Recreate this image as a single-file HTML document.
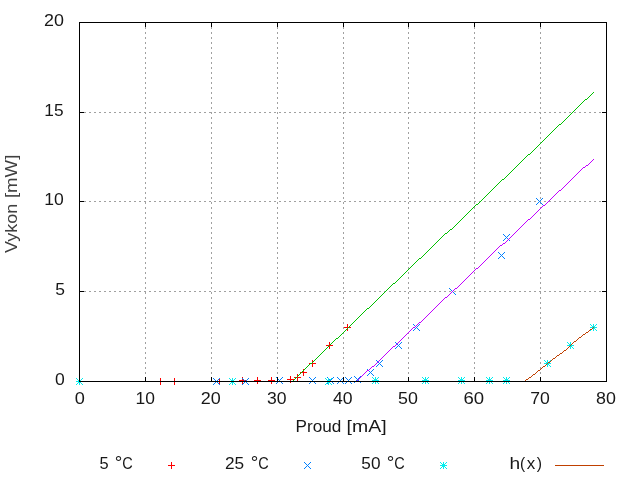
<!DOCTYPE html><html><head><meta charset="utf-8"><style>html,body{margin:0;padding:0;background:#fff;overflow:hidden}svg{display:block}text{font-family:"Liberation Sans",sans-serif}g.t{fill:#181818}</style></head><body>
<svg width="640" height="480" viewBox="0 0 640 480">
<rect width="640" height="480" fill="#fff"/>
<g stroke="#a0a0a0" stroke-width="1" stroke-dasharray="2 3" shape-rendering="crispEdges"><line x1="79" y1="291.5" x2="606" y2="291.5"/><line x1="79" y1="201.5" x2="606" y2="201.5"/><line x1="79" y1="112.5" x2="606" y2="112.5"/><line x1="145.5" y1="22" x2="145.5" y2="381"/><line x1="211.5" y1="22" x2="211.5" y2="381"/><line x1="277.5" y1="22" x2="277.5" y2="381"/><line x1="343.5" y1="22" x2="343.5" y2="381"/><line x1="408.5" y1="22" x2="408.5" y2="381"/><line x1="474.5" y1="22" x2="474.5" y2="381"/><line x1="540.5" y1="22" x2="540.5" y2="381"/></g>
<path fill="#ff0000" shape-rendering="crispEdges" d="M157 381h7v1h-7zM160 378h1v7h-1zM171 381h7v1h-7zM174 378h1v7h-1zM216 381h7v1h-7zM219 378h1v7h-1zM239 380h7v1h-7zM242 377h1v7h-1zM254 380h7v1h-7zM257 377h1v7h-1zM268 380h7v1h-7zM271 377h1v7h-1zM287 379h7v1h-7zM290 376h1v7h-1zM294 377h7v1h-7zM297 374h1v7h-1zM300 372h7v1h-7zM303 369h1v7h-1zM309 363h7v1h-7zM312 360h1v7h-1zM326 345h7v1h-7zM329 342h1v7h-1zM344 327h7v1h-7zM347 324h1v7h-1z"/>
<path fill="#00c000" shape-rendering="crispEdges" d="M593 92h1v1h-1zM592 93h1v1h-1zM591 94h1v1h-1zM590 95h1v1h-1zM589 96h1v1h-1zM588 97h1v1h-1zM587 98h1v1h-1zM585 99h2v1h-2zM584 100h1v1h-1zM583 101h1v1h-1zM582 102h1v1h-1zM581 103h1v1h-1zM580 104h1v1h-1zM579 105h1v1h-1zM578 106h1v1h-1zM577 107h1v1h-1zM576 108h1v1h-1zM575 109h1v1h-1zM574 110h1v1h-1zM573 111h1v1h-1zM572 112h1v1h-1zM571 113h1v1h-1zM570 114h1v1h-1zM569 115h1v1h-1zM568 116h1v1h-1zM567 117h1v1h-1zM566 118h1v1h-1zM565 119h1v1h-1zM564 120h1v1h-1zM563 121h1v1h-1zM562 122h1v1h-1zM561 123h1v1h-1zM559 124h2v1h-2zM558 125h1v1h-1zM557 126h1v1h-1zM556 127h1v1h-1zM555 128h1v1h-1zM554 129h1v1h-1zM553 130h1v1h-1zM552 131h1v1h-1zM551 132h1v1h-1zM550 133h1v1h-1zM549 134h1v1h-1zM548 135h1v1h-1zM547 136h1v1h-1zM546 137h1v1h-1zM545 138h1v1h-1zM544 139h1v1h-1zM543 140h1v1h-1zM542 141h1v1h-1zM541 142h1v1h-1zM540 143h1v1h-1zM539 144h1v1h-1zM538 145h1v1h-1zM537 146h1v1h-1zM536 147h1v1h-1zM535 148h1v1h-1zM534 149h1v1h-1zM533 150h1v1h-1zM532 151h1v1h-1zM531 152h1v1h-1zM530 153h1v1h-1zM528 154h2v1h-2zM527 155h1v1h-1zM526 156h1v1h-1zM525 157h1v1h-1zM524 158h1v1h-1zM523 159h1v1h-1zM522 160h1v1h-1zM521 161h1v1h-1zM520 162h1v1h-1zM519 163h1v1h-1zM518 164h1v1h-1zM517 165h1v1h-1zM516 166h1v1h-1zM515 167h1v1h-1zM514 168h1v1h-1zM513 169h1v1h-1zM512 170h1v1h-1zM511 171h1v1h-1zM510 172h1v1h-1zM509 173h1v1h-1zM508 174h1v1h-1zM507 175h1v1h-1zM506 176h1v1h-1zM505 177h1v1h-1zM504 178h1v1h-1zM502 179h2v1h-2zM501 180h1v1h-1zM500 181h1v1h-1zM499 182h1v1h-1zM498 183h1v1h-1zM497 184h1v1h-1zM496 185h1v1h-1zM495 186h1v1h-1zM494 187h1v1h-1zM493 188h1v1h-1zM492 189h1v1h-1zM491 190h1v1h-1zM490 191h1v1h-1zM489 192h1v1h-1zM488 193h1v1h-1zM487 194h1v1h-1zM486 195h1v1h-1zM485 196h1v1h-1zM484 197h1v1h-1zM483 198h1v1h-1zM482 199h1v1h-1zM481 200h1v1h-1zM480 201h1v1h-1zM479 202h1v1h-1zM478 203h1v1h-1zM476 204h2v1h-2zM475 205h1v1h-1zM474 206h1v1h-1zM473 207h1v1h-1zM472 208h1v1h-1zM471 209h1v1h-1zM470 210h1v1h-1zM469 211h1v1h-1zM468 212h1v1h-1zM467 213h1v1h-1zM466 214h1v1h-1zM465 215h1v1h-1zM464 216h1v1h-1zM463 217h1v1h-1zM462 218h1v1h-1zM461 219h1v1h-1zM460 220h1v1h-1zM459 221h1v1h-1zM458 222h1v1h-1zM457 223h1v1h-1zM456 224h1v1h-1zM455 225h1v1h-1zM454 226h1v1h-1zM453 227h1v1h-1zM452 228h1v1h-1zM450 229h2v1h-2zM449 230h1v1h-1zM448 231h1v1h-1zM447 232h1v1h-1zM445 233h2v1h-2zM444 234h1v1h-1zM443 235h1v1h-1zM442 236h1v1h-1zM441 237h1v1h-1zM440 238h1v1h-1zM439 239h1v1h-1zM438 240h1v1h-1zM437 241h1v1h-1zM436 242h1v1h-1zM435 243h1v1h-1zM434 244h1v1h-1zM433 245h1v1h-1zM432 246h1v1h-1zM431 247h1v1h-1zM430 248h1v1h-1zM429 249h1v1h-1zM428 250h1v1h-1zM427 251h1v1h-1zM426 252h1v1h-1zM425 253h1v1h-1zM424 254h1v1h-1zM423 255h1v1h-1zM422 256h1v1h-1zM421 257h1v1h-1zM419 258h2v1h-2zM418 259h1v1h-1zM417 260h1v1h-1zM416 261h1v1h-1zM415 262h1v1h-1zM414 263h1v1h-1zM413 264h1v1h-1zM412 265h1v1h-1zM411 266h1v1h-1zM410 267h1v1h-1zM409 268h1v1h-1zM408 269h1v1h-1zM407 270h1v1h-1zM406 271h1v1h-1zM405 272h1v1h-1zM404 273h1v1h-1zM403 274h1v1h-1zM402 275h1v1h-1zM401 276h1v1h-1zM400 277h1v1h-1zM399 278h1v1h-1zM398 279h1v1h-1zM397 280h1v1h-1zM396 281h1v1h-1zM395 282h1v1h-1zM393 283h2v1h-2zM392 284h1v1h-1zM391 285h1v1h-1zM390 286h1v1h-1zM389 287h1v1h-1zM388 288h1v1h-1zM387 289h1v1h-1zM386 290h1v1h-1zM385 291h1v1h-1zM384 292h1v1h-1zM383 293h1v1h-1zM382 294h1v1h-1zM381 295h1v1h-1zM380 296h1v1h-1zM379 297h1v1h-1zM378 298h1v1h-1zM377 299h1v1h-1zM376 300h1v1h-1zM375 301h1v1h-1zM374 302h1v1h-1zM373 303h1v1h-1zM372 304h1v1h-1zM371 305h1v1h-1zM370 306h1v1h-1zM369 307h1v1h-1zM367 308h2v1h-2zM366 309h1v1h-1zM365 310h1v1h-1zM364 311h1v1h-1zM363 312h1v1h-1zM362 313h1v1h-1zM361 314h1v1h-1zM360 315h1v1h-1zM359 316h1v1h-1zM358 317h1v1h-1zM357 318h1v1h-1zM356 319h1v1h-1zM355 320h1v1h-1zM354 321h1v1h-1zM353 322h1v1h-1zM352 323h1v1h-1zM351 324h1v1h-1zM350 325h1v1h-1zM349 326h1v1h-1zM348 327h1v1h-1zM347 328h1v1h-1zM346 329h1v1h-1zM345 330h1v1h-1zM344 331h1v1h-1zM343 332h1v1h-1zM342 333h1v1h-1zM341 334h1v1h-1zM340 335h1v1h-1zM339 336h1v1h-1zM338 337h1v1h-1zM336 338h2v1h-2zM335 339h1v1h-1zM334 340h1v1h-1zM333 341h1v1h-1zM332 342h1v1h-1zM331 343h1v1h-1zM330 344h1v1h-1zM329 345h1v1h-1zM328 346h1v1h-1zM327 347h1v1h-1zM326 348h1v1h-1zM325 349h1v1h-1zM324 350h1v1h-1zM323 351h1v1h-1zM322 352h1v1h-1zM321 353h1v1h-1zM320 354h1v1h-1zM319 355h1v1h-1zM318 356h1v1h-1zM317 357h1v1h-1zM316 358h1v1h-1zM315 359h1v1h-1zM314 360h1v1h-1zM313 361h1v1h-1zM312 362h1v1h-1zM310 363h2v1h-2zM309 364h1v1h-1zM308 365h1v1h-1zM307 366h1v1h-1zM306 367h1v1h-1zM305 368h1v1h-1zM304 369h1v1h-1zM303 370h1v1h-1zM302 371h1v1h-1zM301 372h1v1h-1zM300 373h1v1h-1zM299 374h1v1h-1zM298 375h1v1h-1zM297 376h1v1h-1zM296 377h1v1h-1zM295 378h1v1h-1zM294 379h1v1h-1zM293 380h1v1h-1zM291 381h2v1h-2z"/>
<path fill="#0080ff" shape-rendering="crispEdges" d="M213 378h1v1h-1zM213 384h1v1h-1zM214 379h1v1h-1zM214 383h1v1h-1zM215 380h1v1h-1zM215 382h1v1h-1zM216 381h1v1h-1zM217 382h1v1h-1zM217 380h1v1h-1zM218 383h1v1h-1zM218 379h1v1h-1zM219 384h1v1h-1zM219 378h1v1h-1zM242 378h1v1h-1zM242 384h1v1h-1zM243 379h1v1h-1zM243 383h1v1h-1zM244 380h1v1h-1zM244 382h1v1h-1zM245 381h1v1h-1zM246 382h1v1h-1zM246 380h1v1h-1zM247 383h1v1h-1zM247 379h1v1h-1zM248 384h1v1h-1zM248 378h1v1h-1zM276 377h1v1h-1zM276 383h1v1h-1zM277 378h1v1h-1zM277 382h1v1h-1zM278 379h1v1h-1zM278 381h1v1h-1zM279 380h1v1h-1zM280 381h1v1h-1zM280 379h1v1h-1zM281 382h1v1h-1zM281 378h1v1h-1zM282 383h1v1h-1zM282 377h1v1h-1zM309 377h1v1h-1zM309 383h1v1h-1zM310 378h1v1h-1zM310 382h1v1h-1zM311 379h1v1h-1zM311 381h1v1h-1zM312 380h1v1h-1zM313 381h1v1h-1zM313 379h1v1h-1zM314 382h1v1h-1zM314 378h1v1h-1zM315 383h1v1h-1zM315 377h1v1h-1zM327 377h1v1h-1zM327 383h1v1h-1zM328 378h1v1h-1zM328 382h1v1h-1zM329 379h1v1h-1zM329 381h1v1h-1zM330 380h1v1h-1zM331 381h1v1h-1zM331 379h1v1h-1zM332 382h1v1h-1zM332 378h1v1h-1zM333 383h1v1h-1zM333 377h1v1h-1zM337 377h1v1h-1zM337 383h1v1h-1zM338 378h1v1h-1zM338 382h1v1h-1zM339 379h1v1h-1zM339 381h1v1h-1zM340 380h1v1h-1zM341 381h1v1h-1zM341 379h1v1h-1zM342 382h1v1h-1zM342 378h1v1h-1zM343 383h1v1h-1zM343 377h1v1h-1zM345 377h1v1h-1zM345 383h1v1h-1zM346 378h1v1h-1zM346 382h1v1h-1zM347 379h1v1h-1zM347 381h1v1h-1zM348 380h1v1h-1zM349 381h1v1h-1zM349 379h1v1h-1zM350 382h1v1h-1zM350 378h1v1h-1zM351 383h1v1h-1zM351 377h1v1h-1zM354 376h1v1h-1zM354 382h1v1h-1zM355 377h1v1h-1zM355 381h1v1h-1zM356 378h1v1h-1zM356 380h1v1h-1zM357 379h1v1h-1zM358 380h1v1h-1zM358 378h1v1h-1zM359 381h1v1h-1zM359 377h1v1h-1zM360 382h1v1h-1zM360 376h1v1h-1zM367 369h1v1h-1zM367 375h1v1h-1zM368 370h1v1h-1zM368 374h1v1h-1zM369 371h1v1h-1zM369 373h1v1h-1zM370 372h1v1h-1zM371 373h1v1h-1zM371 371h1v1h-1zM372 374h1v1h-1zM372 370h1v1h-1zM373 375h1v1h-1zM373 369h1v1h-1zM376 360h1v1h-1zM376 366h1v1h-1zM377 361h1v1h-1zM377 365h1v1h-1zM378 362h1v1h-1zM378 364h1v1h-1zM379 363h1v1h-1zM380 364h1v1h-1zM380 362h1v1h-1zM381 365h1v1h-1zM381 361h1v1h-1zM382 366h1v1h-1zM382 360h1v1h-1zM395 342h1v1h-1zM395 348h1v1h-1zM396 343h1v1h-1zM396 347h1v1h-1zM397 344h1v1h-1zM397 346h1v1h-1zM398 345h1v1h-1zM399 346h1v1h-1zM399 344h1v1h-1zM400 347h1v1h-1zM400 343h1v1h-1zM401 348h1v1h-1zM401 342h1v1h-1zM413 324h1v1h-1zM413 330h1v1h-1zM414 325h1v1h-1zM414 329h1v1h-1zM415 326h1v1h-1zM415 328h1v1h-1zM416 327h1v1h-1zM417 328h1v1h-1zM417 326h1v1h-1zM418 329h1v1h-1zM418 325h1v1h-1zM419 330h1v1h-1zM419 324h1v1h-1zM449 288h1v1h-1zM449 294h1v1h-1zM450 289h1v1h-1zM450 293h1v1h-1zM451 290h1v1h-1zM451 292h1v1h-1zM452 291h1v1h-1zM453 292h1v1h-1zM453 290h1v1h-1zM454 293h1v1h-1zM454 289h1v1h-1zM455 294h1v1h-1zM455 288h1v1h-1zM498 252h1v1h-1zM498 258h1v1h-1zM499 253h1v1h-1zM499 257h1v1h-1zM500 254h1v1h-1zM500 256h1v1h-1zM501 255h1v1h-1zM502 256h1v1h-1zM502 254h1v1h-1zM503 257h1v1h-1zM503 253h1v1h-1zM504 258h1v1h-1zM504 252h1v1h-1zM503 234h1v1h-1zM503 240h1v1h-1zM504 235h1v1h-1zM504 239h1v1h-1zM505 236h1v1h-1zM505 238h1v1h-1zM506 237h1v1h-1zM507 238h1v1h-1zM507 236h1v1h-1zM508 239h1v1h-1zM508 235h1v1h-1zM509 240h1v1h-1zM509 234h1v1h-1zM536 198h1v1h-1zM536 204h1v1h-1zM537 199h1v1h-1zM537 203h1v1h-1zM538 200h1v1h-1zM538 202h1v1h-1zM539 201h1v1h-1zM540 202h1v1h-1zM540 200h1v1h-1zM541 203h1v1h-1zM541 199h1v1h-1zM542 204h1v1h-1zM542 198h1v1h-1z"/>
<path fill="#c000ff" shape-rendering="crispEdges" d="M593 159h1v1h-1zM592 160h1v1h-1zM591 161h1v1h-1zM590 162h1v1h-1zM589 163h1v1h-1zM588 164h1v1h-1zM586 165h2v1h-2zM585 166h1v1h-1zM583 167h2v1h-2zM582 168h1v1h-1zM581 169h1v1h-1zM580 170h1v1h-1zM579 171h1v1h-1zM578 172h1v1h-1zM577 173h1v1h-1zM576 174h1v1h-1zM575 175h1v1h-1zM574 176h1v1h-1zM573 177h1v1h-1zM572 178h1v1h-1zM571 179h1v1h-1zM570 180h1v1h-1zM569 181h1v1h-1zM568 182h1v1h-1zM567 183h1v1h-1zM566 184h1v1h-1zM565 185h1v1h-1zM564 186h1v1h-1zM563 187h1v1h-1zM562 188h1v1h-1zM561 189h1v1h-1zM559 190h2v1h-2zM558 191h1v1h-1zM557 192h1v1h-1zM556 193h1v1h-1zM555 194h1v1h-1zM554 195h1v1h-1zM553 196h1v1h-1zM552 197h1v1h-1zM551 198h1v1h-1zM550 199h1v1h-1zM549 200h1v1h-1zM548 201h1v1h-1zM547 202h1v1h-1zM546 203h1v1h-1zM545 204h1v1h-1zM543 205h2v1h-2zM542 206h1v1h-1zM541 207h1v1h-1zM540 208h1v1h-1zM539 209h1v1h-1zM538 210h1v1h-1zM537 211h1v1h-1zM536 212h1v1h-1zM535 213h1v1h-1zM534 214h1v1h-1zM533 215h1v1h-1zM532 216h1v1h-1zM531 217h1v1h-1zM530 218h1v1h-1zM528 219h2v1h-2zM527 220h1v1h-1zM526 221h1v1h-1zM525 222h1v1h-1zM524 223h1v1h-1zM523 224h1v1h-1zM522 225h1v1h-1zM521 226h1v1h-1zM520 227h1v1h-1zM519 228h1v1h-1zM518 229h1v1h-1zM517 230h1v1h-1zM516 231h1v1h-1zM515 232h1v1h-1zM514 233h1v1h-1zM513 234h1v1h-1zM512 235h1v1h-1zM511 236h1v1h-1zM510 237h1v1h-1zM509 238h1v1h-1zM508 239h1v1h-1zM507 240h1v1h-1zM506 241h1v1h-1zM505 242h1v1h-1zM503 243h2v1h-2zM502 244h1v1h-1zM500 245h2v1h-2zM499 246h1v1h-1zM498 247h1v1h-1zM497 248h1v1h-1zM496 249h1v1h-1zM495 250h1v1h-1zM494 251h1v1h-1zM493 252h1v1h-1zM492 253h1v1h-1zM491 254h1v1h-1zM490 255h1v1h-1zM489 256h1v1h-1zM488 257h1v1h-1zM487 258h1v1h-1zM486 259h1v1h-1zM485 260h1v1h-1zM484 261h1v1h-1zM483 262h1v1h-1zM482 263h1v1h-1zM481 264h1v1h-1zM480 265h1v1h-1zM479 266h1v1h-1zM478 267h1v1h-1zM476 268h2v1h-2zM475 269h1v1h-1zM474 270h1v1h-1zM473 271h1v1h-1zM472 272h1v1h-1zM471 273h1v1h-1zM470 274h1v1h-1zM469 275h1v1h-1zM468 276h1v1h-1zM467 277h1v1h-1zM466 278h1v1h-1zM465 279h1v1h-1zM464 280h1v1h-1zM463 281h1v1h-1zM462 282h1v1h-1zM461 283h1v1h-1zM460 284h1v1h-1zM459 285h1v1h-1zM458 286h1v1h-1zM457 287h1v1h-1zM455 288h2v1h-2zM454 289h1v1h-1zM453 290h1v1h-1zM452 291h1v1h-1zM451 292h1v1h-1zM450 293h1v1h-1zM449 294h1v1h-1zM448 295h1v1h-1zM447 296h1v1h-1zM445 297h2v1h-2zM444 298h1v1h-1zM443 299h1v1h-1zM442 300h1v1h-1zM441 301h1v1h-1zM440 302h1v1h-1zM439 303h1v1h-1zM438 304h1v1h-1zM437 305h1v1h-1zM436 306h1v1h-1zM435 307h1v1h-1zM434 308h1v1h-1zM433 309h1v1h-1zM432 310h1v1h-1zM431 311h1v1h-1zM430 312h1v1h-1zM429 313h1v1h-1zM428 314h1v1h-1zM427 315h1v1h-1zM426 316h1v1h-1zM425 317h1v1h-1zM424 318h1v1h-1zM423 319h1v1h-1zM422 320h1v1h-1zM421 321h1v1h-1zM419 322h2v1h-2zM418 323h1v1h-1zM417 324h1v1h-1zM416 325h1v1h-1zM415 326h1v1h-1zM413 327h2v1h-2zM412 328h1v1h-1zM411 329h1v1h-1zM410 330h1v1h-1zM409 331h1v1h-1zM408 332h1v1h-1zM407 333h1v1h-1zM406 334h1v1h-1zM405 335h1v1h-1zM404 336h1v1h-1zM403 337h1v1h-1zM402 338h1v1h-1zM401 339h1v1h-1zM400 340h1v1h-1zM399 341h1v1h-1zM398 342h1v1h-1zM397 343h1v1h-1zM396 344h1v1h-1zM395 345h1v1h-1zM393 346h2v1h-2zM392 347h1v1h-1zM391 348h1v1h-1zM390 349h1v1h-1zM389 350h1v1h-1zM388 351h1v1h-1zM387 352h1v1h-1zM386 353h1v1h-1zM385 354h1v1h-1zM384 355h1v1h-1zM383 356h1v1h-1zM382 357h1v1h-1zM381 358h1v1h-1zM380 359h1v1h-1zM379 360h1v1h-1zM378 361h1v1h-1zM377 362h1v1h-1zM376 363h1v1h-1zM375 364h1v1h-1zM374 365h1v1h-1zM372 366h2v1h-2zM371 367h1v1h-1zM370 368h1v1h-1zM369 369h1v1h-1zM367 370h2v1h-2zM366 371h1v1h-1zM365 372h1v1h-1zM364 373h1v1h-1zM363 374h1v1h-1zM362 375h1v1h-1zM361 376h1v1h-1zM360 377h1v1h-1zM359 378h1v1h-1zM358 379h1v1h-1zM357 380h1v1h-1zM356 381h1v1h-1z"/>
<path fill="#00eeee" shape-rendering="crispEdges" d="M76 381h7v1h-7zM79 378h1v7h-1zM76 378h1v1h-1zM76 384h1v1h-1zM77 379h1v1h-1zM77 383h1v1h-1zM78 380h1v1h-1zM78 382h1v1h-1zM79 381h1v1h-1zM80 382h1v1h-1zM80 380h1v1h-1zM81 383h1v1h-1zM81 379h1v1h-1zM82 384h1v1h-1zM82 378h1v1h-1zM229 381h7v1h-7zM232 378h1v7h-1zM229 378h1v1h-1zM229 384h1v1h-1zM230 379h1v1h-1zM230 383h1v1h-1zM231 380h1v1h-1zM231 382h1v1h-1zM232 381h1v1h-1zM233 382h1v1h-1zM233 380h1v1h-1zM234 383h1v1h-1zM234 379h1v1h-1zM235 384h1v1h-1zM235 378h1v1h-1zM325 381h7v1h-7zM328 378h1v7h-1zM325 378h1v1h-1zM325 384h1v1h-1zM326 379h1v1h-1zM326 383h1v1h-1zM327 380h1v1h-1zM327 382h1v1h-1zM328 381h1v1h-1zM329 382h1v1h-1zM329 380h1v1h-1zM330 383h1v1h-1zM330 379h1v1h-1zM331 384h1v1h-1zM331 378h1v1h-1zM372 380h7v1h-7zM375 377h1v7h-1zM372 377h1v1h-1zM372 383h1v1h-1zM373 378h1v1h-1zM373 382h1v1h-1zM374 379h1v1h-1zM374 381h1v1h-1zM375 380h1v1h-1zM376 381h1v1h-1zM376 379h1v1h-1zM377 382h1v1h-1zM377 378h1v1h-1zM378 383h1v1h-1zM378 377h1v1h-1zM422 380h7v1h-7zM425 377h1v7h-1zM422 377h1v1h-1zM422 383h1v1h-1zM423 378h1v1h-1zM423 382h1v1h-1zM424 379h1v1h-1zM424 381h1v1h-1zM425 380h1v1h-1zM426 381h1v1h-1zM426 379h1v1h-1zM427 382h1v1h-1zM427 378h1v1h-1zM428 383h1v1h-1zM428 377h1v1h-1zM458 380h7v1h-7zM461 377h1v7h-1zM458 377h1v1h-1zM458 383h1v1h-1zM459 378h1v1h-1zM459 382h1v1h-1zM460 379h1v1h-1zM460 381h1v1h-1zM461 380h1v1h-1zM462 381h1v1h-1zM462 379h1v1h-1zM463 382h1v1h-1zM463 378h1v1h-1zM464 383h1v1h-1zM464 377h1v1h-1zM486 380h7v1h-7zM489 377h1v7h-1zM486 377h1v1h-1zM486 383h1v1h-1zM487 378h1v1h-1zM487 382h1v1h-1zM488 379h1v1h-1zM488 381h1v1h-1zM489 380h1v1h-1zM490 381h1v1h-1zM490 379h1v1h-1zM491 382h1v1h-1zM491 378h1v1h-1zM492 383h1v1h-1zM492 377h1v1h-1zM503 380h7v1h-7zM506 377h1v7h-1zM503 377h1v1h-1zM503 383h1v1h-1zM504 378h1v1h-1zM504 382h1v1h-1zM505 379h1v1h-1zM505 381h1v1h-1zM506 380h1v1h-1zM507 381h1v1h-1zM507 379h1v1h-1zM508 382h1v1h-1zM508 378h1v1h-1zM509 383h1v1h-1zM509 377h1v1h-1zM544 363h7v1h-7zM547 360h1v7h-1zM544 360h1v1h-1zM544 366h1v1h-1zM545 361h1v1h-1zM545 365h1v1h-1zM546 362h1v1h-1zM546 364h1v1h-1zM547 363h1v1h-1zM548 364h1v1h-1zM548 362h1v1h-1zM549 365h1v1h-1zM549 361h1v1h-1zM550 366h1v1h-1zM550 360h1v1h-1zM567 345h7v1h-7zM570 342h1v7h-1zM567 342h1v1h-1zM567 348h1v1h-1zM568 343h1v1h-1zM568 347h1v1h-1zM569 344h1v1h-1zM569 346h1v1h-1zM570 345h1v1h-1zM571 346h1v1h-1zM571 344h1v1h-1zM572 347h1v1h-1zM572 343h1v1h-1zM573 348h1v1h-1zM573 342h1v1h-1zM590 327h7v1h-7zM593 324h1v7h-1zM590 324h1v1h-1zM590 330h1v1h-1zM591 325h1v1h-1zM591 329h1v1h-1zM592 326h1v1h-1zM592 328h1v1h-1zM593 327h1v1h-1zM594 328h1v1h-1zM594 326h1v1h-1zM595 329h1v1h-1zM595 325h1v1h-1zM596 330h1v1h-1zM596 324h1v1h-1z"/>
<path fill="#c04000" shape-rendering="crispEdges" d="M593 327h1v1h-1zM592 328h1v1h-1zM590 329h2v1h-2zM589 330h1v1h-1zM588 331h1v1h-1zM586 332h2v1h-2zM585 333h1v1h-1zM583 334h2v1h-2zM582 335h1v1h-1zM581 336h1v1h-1zM579 337h2v1h-2zM578 338h1v1h-1zM577 339h1v1h-1zM576 340h1v1h-1zM574 341h2v1h-2zM573 342h1v1h-1zM572 343h1v1h-1zM571 344h1v1h-1zM570 345h1v1h-1zM569 346h1v1h-1zM568 347h1v1h-1zM567 348h1v1h-1zM566 349h1v1h-1zM564 350h2v1h-2zM563 351h1v1h-1zM562 352h1v1h-1zM560 353h2v1h-2zM559 354h1v1h-1zM557 355h2v1h-2zM556 356h1v1h-1zM555 357h1v1h-1zM553 358h2v1h-2zM552 359h1v1h-1zM551 360h1v1h-1zM550 361h1v1h-1zM548 362h2v1h-2zM547 363h1v1h-1zM546 364h1v1h-1zM545 365h1v1h-1zM543 366h2v1h-2zM542 367h1v1h-1zM541 368h1v1h-1zM540 369h1v1h-1zM538 370h2v1h-2zM537 371h1v1h-1zM536 372h1v1h-1zM535 373h1v1h-1zM533 374h2v1h-2zM532 375h1v1h-1zM531 376h1v1h-1zM529 377h2v1h-2zM528 378h1v1h-1zM526 379h2v1h-2zM525 380h1v1h-1zM524 381h1v1h-1z"/>
<path fill="#000" shape-rendering="crispEdges" d="M79 22h528v1h-528zM79 381h528v1h-528zM79 22h1v360h-1zM606 22h1v360h-1zM145 377h1v4h-1zM145 23h1v4h-1zM211 377h1v4h-1zM211 23h1v4h-1zM277 377h1v4h-1zM277 23h1v4h-1zM343 377h1v4h-1zM343 23h1v4h-1zM408 377h1v4h-1zM408 23h1v4h-1zM474 377h1v4h-1zM474 23h1v4h-1zM540 377h1v4h-1zM540 23h1v4h-1zM80 291h4v1h-4zM602 291h4v1h-4zM80 201h4v1h-4zM602 201h4v1h-4zM80 112h4v1h-4zM602 112h4v1h-4z"/>
<path fill="#ff0000" shape-rendering="crispEdges" d="M168 465h7v1h-7zM171 462h1v7h-1z"/>
<path fill="#0080ff" shape-rendering="crispEdges" d="M304 462h1v1h-1zM304 468h1v1h-1zM305 463h1v1h-1zM305 467h1v1h-1zM306 464h1v1h-1zM306 466h1v1h-1zM307 465h1v1h-1zM308 466h1v1h-1zM308 464h1v1h-1zM309 467h1v1h-1zM309 463h1v1h-1zM310 468h1v1h-1zM310 462h1v1h-1z"/>
<path fill="#00eeee" shape-rendering="crispEdges" d="M440 465h7v1h-7zM443 462h1v7h-1zM440 462h1v1h-1zM440 468h1v1h-1zM441 463h1v1h-1zM441 467h1v1h-1zM442 464h1v1h-1zM442 466h1v1h-1zM443 465h1v1h-1zM444 466h1v1h-1zM444 464h1v1h-1zM445 467h1v1h-1zM445 463h1v1h-1zM446 468h1v1h-1zM446 462h1v1h-1z"/>
<path fill="#c04000" shape-rendering="crispEdges" d="M555 465h49v1h-49z"/>
<g opacity="0.999" class="t"><text x="54.91" y="385.00" font-size="17.0" textLength="9.77" lengthAdjust="spacingAndGlyphs">0</text><text x="55.20" y="295.00" font-size="17.0" textLength="9.74" lengthAdjust="spacingAndGlyphs">5</text><text x="44.37" y="205.00" font-size="17.0" textLength="19.52" lengthAdjust="spacingAndGlyphs">10</text><text x="44.38" y="116.00" font-size="17.0" textLength="19.25" lengthAdjust="spacingAndGlyphs">15</text><text x="44.01" y="26.00" font-size="17.0" textLength="19.90" lengthAdjust="spacingAndGlyphs">20</text><text x="74.89" y="404.00" font-size="17.0" textLength="10.12" lengthAdjust="spacingAndGlyphs">0</text><text x="135.47" y="404.00" font-size="17.0" textLength="19.41" lengthAdjust="spacingAndGlyphs">10</text><text x="200.70" y="404.00" font-size="17.0" textLength="20.01" lengthAdjust="spacingAndGlyphs">20</text><text x="267.03" y="404.00" font-size="17.0" textLength="19.56" lengthAdjust="spacingAndGlyphs">30</text><text x="332.99" y="404.00" font-size="17.0" textLength="19.60" lengthAdjust="spacingAndGlyphs">40</text><text x="398.04" y="404.00" font-size="17.0" textLength="19.87" lengthAdjust="spacingAndGlyphs">50</text><text x="463.45" y="404.00" font-size="17.0" textLength="20.68" lengthAdjust="spacingAndGlyphs">60</text><text x="530.20" y="404.00" font-size="17.0" textLength="19.59" lengthAdjust="spacingAndGlyphs">70</text><text x="596.03" y="404.00" font-size="17.0" textLength="19.87" lengthAdjust="spacingAndGlyphs">80</text><text x="295.50" y="432.00" font-size="17.0" textLength="45.71" lengthAdjust="spacingAndGlyphs">Proud</text><text x="346.62" y="432.00" font-size="17.0" textLength="39.95" lengthAdjust="spacingAndGlyphs">[mA]</text><text x="99.44" y="469.00" font-size="17.0" textLength="9.15" lengthAdjust="spacingAndGlyphs">5</text><text x="114.79" y="469.30" font-size="18" textLength="7.54" lengthAdjust="spacingAndGlyphs">°</text><text x="122.16" y="469.00" font-size="17.0" textLength="10.50" lengthAdjust="spacingAndGlyphs">C</text><text x="224.94" y="469.00" font-size="17.0" textLength="19.19" lengthAdjust="spacingAndGlyphs">25</text><text x="250.79" y="469.30" font-size="18" textLength="7.54" lengthAdjust="spacingAndGlyphs">°</text><text x="258.16" y="469.00" font-size="17.0" textLength="10.50" lengthAdjust="spacingAndGlyphs">C</text><text x="361.31" y="469.00" font-size="17.0" textLength="19.17" lengthAdjust="spacingAndGlyphs">50</text><text x="386.79" y="469.30" font-size="18" textLength="7.54" lengthAdjust="spacingAndGlyphs">°</text><text x="394.16" y="469.00" font-size="17.0" textLength="10.50" lengthAdjust="spacingAndGlyphs">C</text><text x="509.58" y="469.00" font-size="17.0" textLength="10.68" lengthAdjust="spacingAndGlyphs">h</text><text x="519.94" y="469.00" font-size="17.0" textLength="5.15" lengthAdjust="spacingAndGlyphs">(</text><text x="526.71" y="469.00" font-size="17.0" textLength="8.47" lengthAdjust="spacingAndGlyphs">x</text><text x="536.80" y="469.00" font-size="17.0" textLength="5.28" lengthAdjust="spacingAndGlyphs">)</text>
<g transform="translate(17 0) rotate(-90)" style="fill:#404040"><text x="-253.07" y="0.00" font-size="17.0" textLength="49.24" lengthAdjust="spacingAndGlyphs">Vykon</text><text x="-198.07" y="0.00" font-size="17.0" textLength="43.38" lengthAdjust="spacingAndGlyphs">[mW]</text></g></g>
</svg></body></html>
